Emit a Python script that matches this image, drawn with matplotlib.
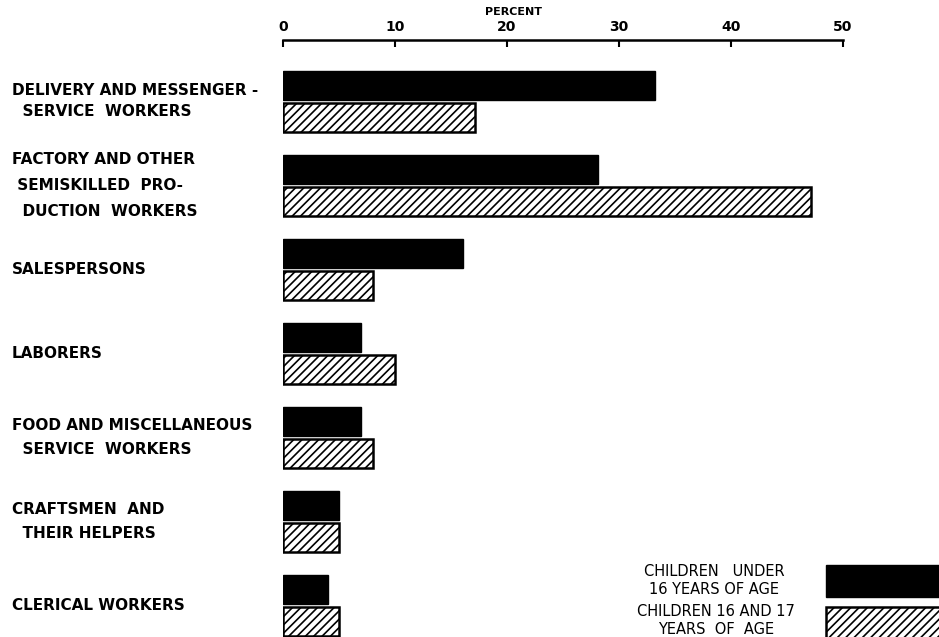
import matplotlib.pyplot as plt
from matplotlib.patches import Rectangle
import matplotlib.transforms as mtransforms

# Occupations and percent of employed children in each
categories = [
    "DELIVERY AND MESSENGER -\n  SERVICE  WORKERS",
    "FACTORY AND OTHER\n SEMISKILLED  PRO-\n  DUCTION  WORKERS",
    "SALESPERSONS",
    "LABORERS",
    "FOOD AND MISCELLANEOUS\n  SERVICE  WORKERS",
    "CRAFTSMEN  AND\n  THEIR HELPERS",
    "CLERICAL WORKERS",
]
under_16 = [33.2, 28.1, 16.1, 7.0, 7.0, 5.0, 4.0]
age_16_17 = [17.1, 47.1, 8.0, 10.0, 8.0, 5.0, 5.0]
ticks = [0, 10, 20, 30, 40, 50]
legend_labels = ["CHILDREN   UNDER\n16 YEARS OF AGE", "CHILDREN 16 AND 17\nYEARS  OF  AGE"]

plt.rcParams['font.family'] = ['DejaVu Sans']
plt.rcParams['hatch.linewidth'] = 1.2

W, H = 939, 637
fig = plt.figure(figsize=(W / 100, H / 100), dpi=100)
ax = fig.add_axes([283 / W, 0, 1 - 283 / W, 1 - 40 / H])

bar_h = 0.345
off = 0.19
ys = list(range(len(categories)))
ax.barh([y - off for y in ys], under_16, height=bar_h, color='black', edgecolor='black')
ax.barh([y + off for y in ys], age_16_17, height=bar_h, color='white',
        edgecolor='black', hatch='////', linewidth=1.8)

ax.set_xlim(0, (W - 283) / 11.2)
ax.set_ylim(6.375, -0.732)

ax.xaxis.tick_top()
ax.set_xticks(ticks)
ax.set_xticklabels([str(t) for t in ticks], fontsize=10, fontweight='bold')
ax.tick_params(axis='x', direction='in', length=5, width=1.5, pad=4)
ax.set_yticks([])
for s in ['left', 'right', 'bottom']:
    ax.spines[s].set_visible(False)
ax.spines['top'].set_bounds(0, 50)
ax.spines['top'].set_linewidth(1.8)

fig.text(513 / W, 1 - 12 / H, "PERCENT", ha='center', va='center',
         fontsize=8, fontweight='bold')

# category labels on the left
trans = mtransforms.blended_transform_factory(fig.transFigure, ax.transData)
spacing = [1.5, 1.95, 1.6, 1.6, 1.67, 1.67, 1.6]
for y, lab, ls in zip(ys, categories, spacing):
    ax.text(12 / W, y, lab, transform=trans, ha='left', va='center',
            fontsize=11, fontweight='bold', linespacing=ls)

# legend in the lower right corner
fig.patches.append(Rectangle((826 / W, 1 - 597 / H), 120 / W, 32 / H,
                             transform=fig.transFigure, facecolor='black',
                             edgecolor='black'))
fig.patches.append(Rectangle((826 / W, 1 - 638 / H), 120 / W, 31 / H,
                             transform=fig.transFigure, facecolor='white',
                             edgecolor='black', hatch='////', linewidth=1.8))
fig.text(714 / W, 1 - 581 / H, legend_labels[0], ha='center', va='center',
         fontsize=10.5, linespacing=1.25)
fig.text(716 / W, 1 - 620 / H, legend_labels[1], ha='center', va='center',
         fontsize=10.5, linespacing=1.25)

fig.savefig('out.png', dpi=100)
